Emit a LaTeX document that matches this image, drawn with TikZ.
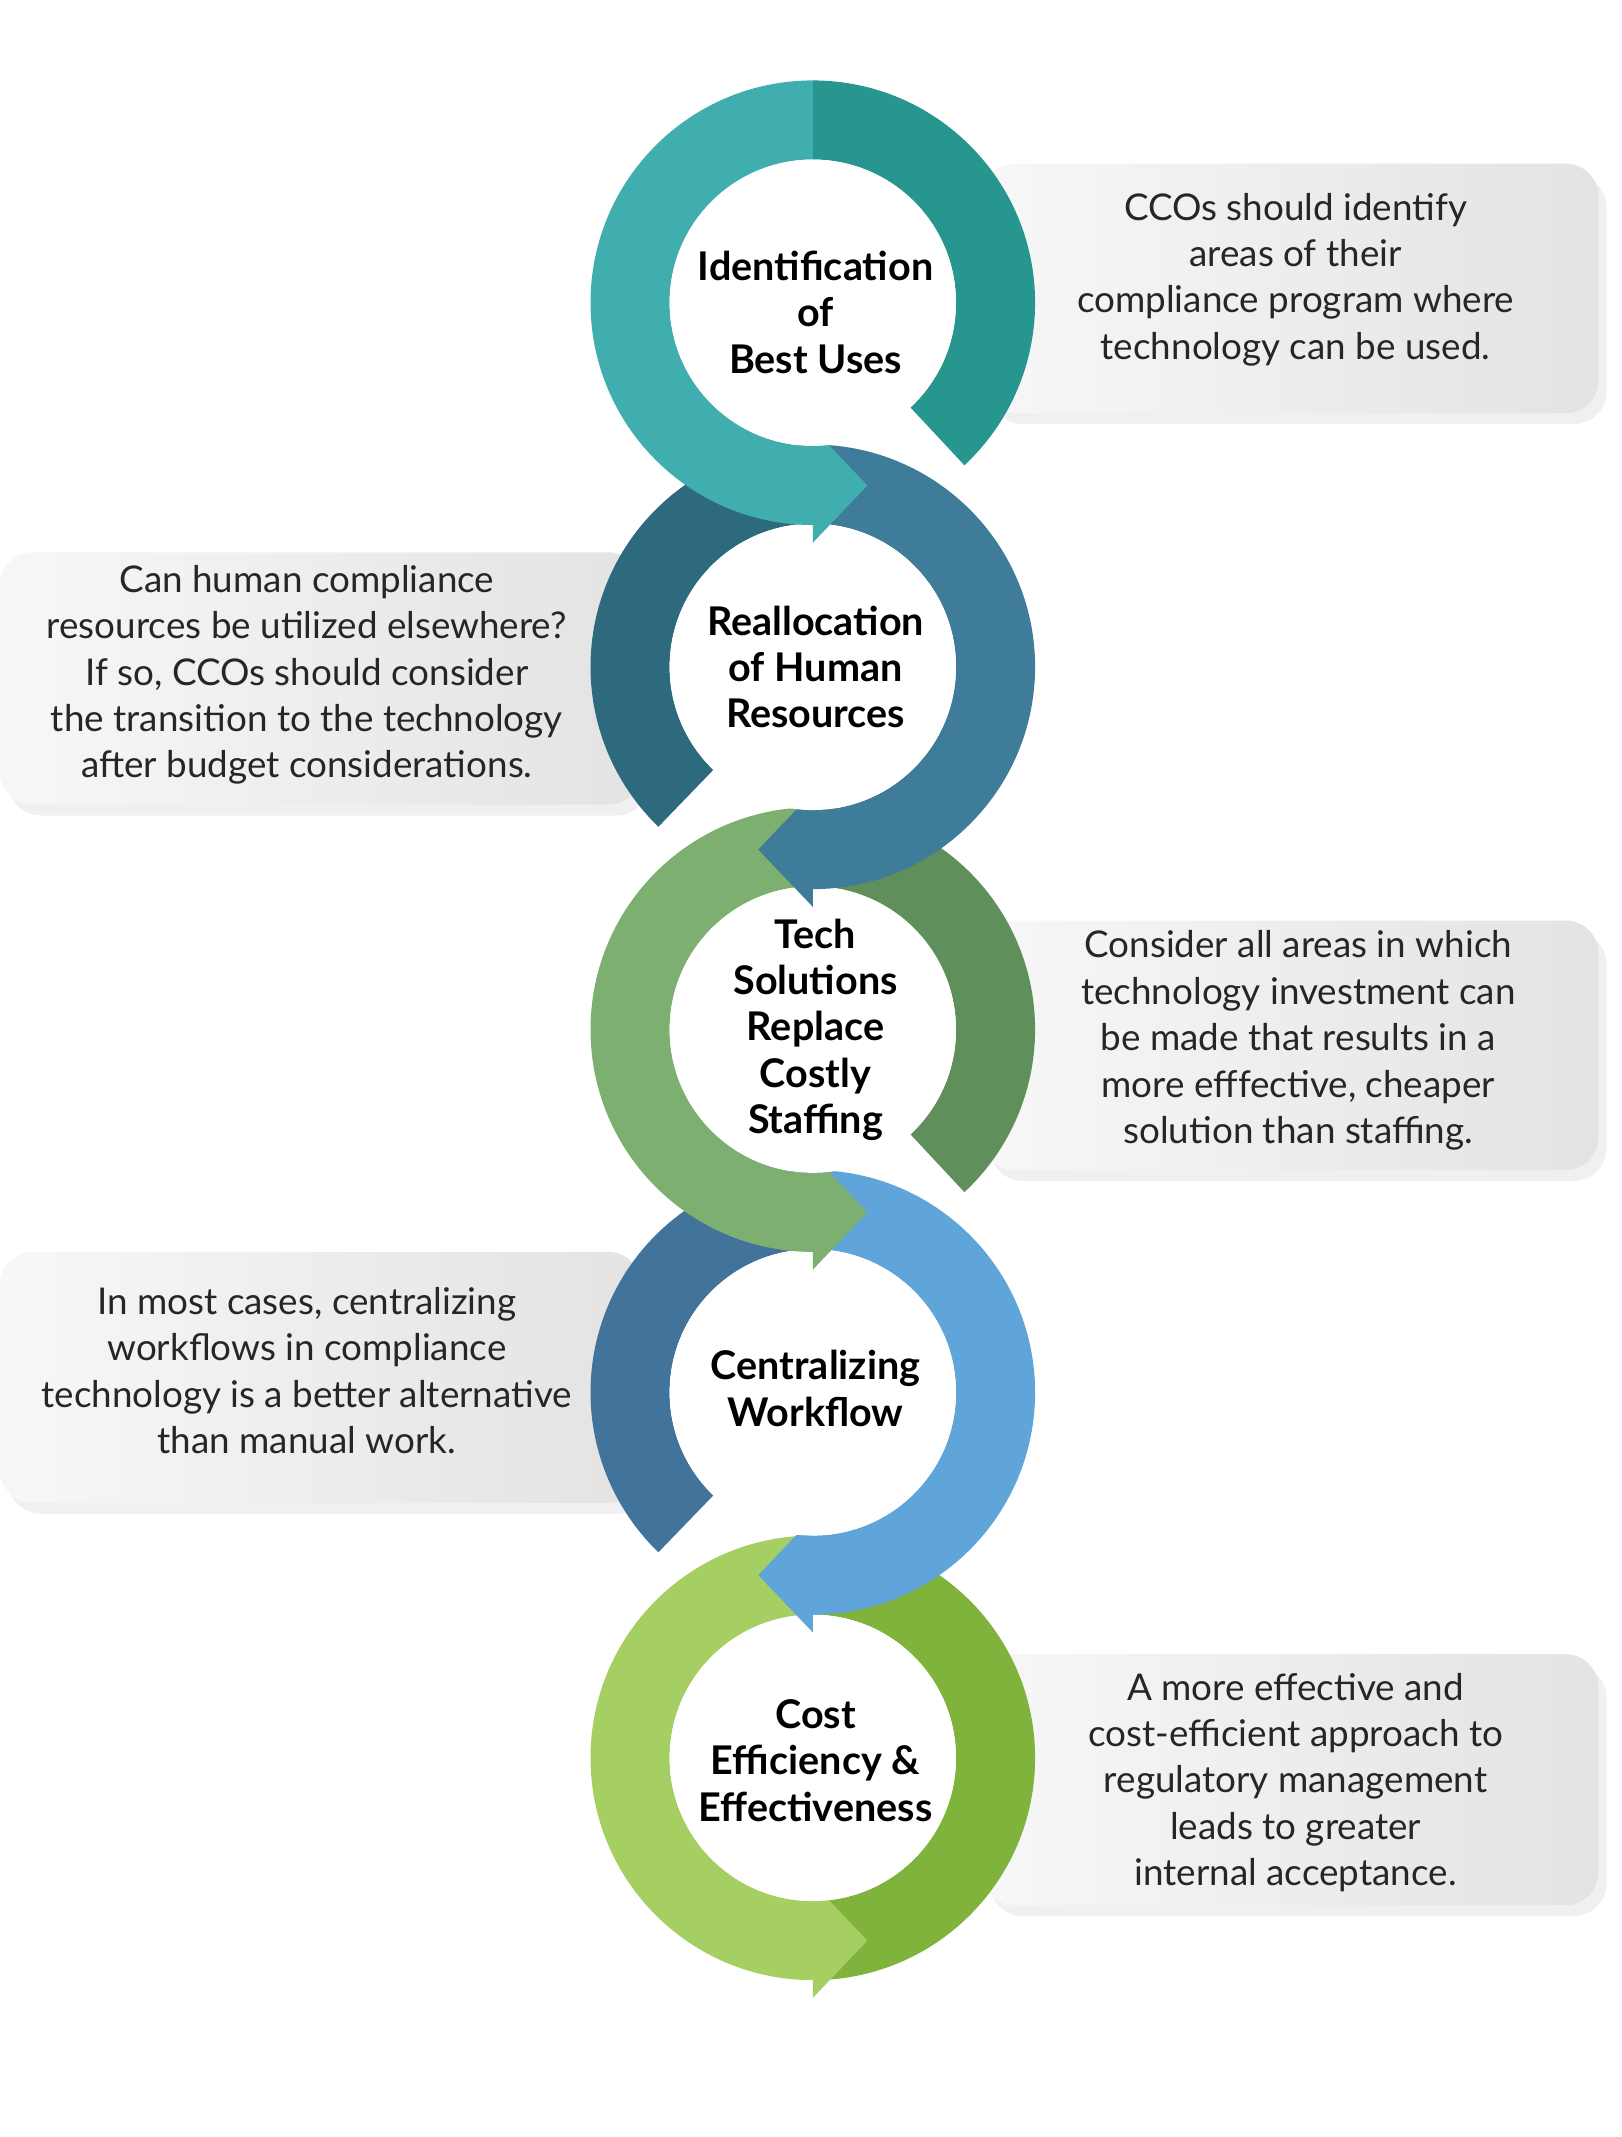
\documentclass[tikz,border=0pt]{standalone}
\usepackage{fontspec}
\setmainfont{Lato}
\usetikzlibrary{shadows}
\definecolor{cAl}{HTML}{40AEAF}\definecolor{cAd}{HTML}{26968F}
\definecolor{cBl}{HTML}{3F7C99}\definecolor{cBd}{HTML}{2D6A7E}
\definecolor{cCl}{HTML}{7DB070}\definecolor{cCd}{HTML}{5F8F5A}
\definecolor{cDl}{HTML}{5FA5DA}\definecolor{cDd}{HTML}{41739B}
\definecolor{cEl}{HTML}{A5CF63}\definecolor{cEd}{HTML}{80B33C}
\newcommand\ringR[4]{%
 \coordinate (c) at (596,#1);
 \fill[#3] ([shift={(c)}]90:81.5pt) arc[start angle=90,end angle=#4,radius=81.5pt] -- ([shift={(c)}]#4:52.5pt) arc[start angle=#4,end angle=90,radius=52.5pt] -- cycle;
 \fill[#2] ([shift={(c)}]90:81.5pt) arc[start angle=90,end angle=270,radius=81.5pt] -- ([shift={(c)}]270:52.5pt) arc[start angle=270,end angle=90,radius=52.5pt] -- cycle;
 \fill[#2] ([shift={(c)}]0,-46pt) -- ([shift={(c)}]0,-88pt) -- ([shift={(c)}]20pt,-67pt) -- cycle;
 \fill[white] (c) circle[radius=52.5pt];}
\newcommand\ringL[3]{%
 \coordinate (c) at (596,#1);
 \fill[#3] ([shift={(c)}]90:81.5pt) arc[start angle=90,end angle=226,radius=81.5pt] -- ([shift={(c)}]226:52.5pt) arc[start angle=226,end angle=90,radius=52.5pt] -- cycle;
 \fill[#2] ([shift={(c)}]90:81.5pt) arc[start angle=90,end angle=-90,radius=81.5pt] -- ([shift={(c)}]-90:52.5pt) arc[start angle=-90,end angle=90,radius=52.5pt] -- cycle;
 \fill[#2] ([shift={(c)}]0,-46pt) -- ([shift={(c)}]0,-88pt) -- ([shift={(c)}]-20pt,-67pt) -- cycle;
 \fill[white] (c) circle[radius=52.5pt];}
\begin{document}
\begin{tikzpicture}[x=0.5pt,y=0.5pt,
 box/.style={rounded corners=12pt,left color=gray!6,right color=gray!22,draw=none,
   drop shadow={opacity=0.12,shadow xshift=3pt,shadow yshift=-4pt}},
 btxt/.style={align=center,font=\fontsize{13.5pt}{17pt}\selectfont,text=black!85},
 rtxt/.style={align=center,font=\fontsize{14.5pt}{17pt}\selectfont\bfseries}]
\useasboundingbox (0,0) rectangle (1189,1567);
\path[box] (720,1264) rectangle (1172,1447);
\path[box] (0,977) rectangle (470,1162);
\path[box] (720,709) rectangle (1172,892);
\path[box] (0,465) rectangle (470,649);
\path[box] (720,170) rectangle (1172,354);
\node[btxt] (t1) at (950,1362) {CCOs should identify\\areas of their\\compliance program where\\technology can be used.};
\node[btxt] (t2) at (225,1072) {Can human compliance\\resources be utilized elsewhere?\\If so, CCOs should consider\\the transition to the technology\\after budget considerations.};
\node[btxt] (t3) at (952,804) {Consider all areas in which\\technology investment can\\be made that results in a\\more efffective, cheaper\\solution than staffing.};
\node[btxt] (t4) at (225,562) {In most cases, centralizing\\workflows in compliance\\technology is a better alternative\\than manual work.};
\node[btxt] (t5) at (950,260) {A more effective and\\cost-efficient approach to\\regulatory management\\leads to greater\\internal acceptance.};
\ringR{278}{cEl}{cEd}{-90}
\ringL{546}{cDl}{cDd}
\ringR{812}{cCl}{cCd}{-47}
\ringL{1078}{cBl}{cBd}
\ringR{1345}{cAl}{cAd}{-47}
\node[rtxt] (r1) at (598,1338) {Identification\\of\\Best Uses};
\node[rtxt] (r2) at (598,1078) {Reallocation\\of Human\\Resources};
\node[rtxt] (r3) at (598,812) {Tech\\Solutions\\Replace\\Costly\\Staffing};
\node[rtxt] (r4) at (598,549) {Centralizing\\Workflow};
\node[rtxt] (r5) at (598,276) {Cost\\Efficiency \&\\Effectiveness};
\end{tikzpicture}
\end{document}
